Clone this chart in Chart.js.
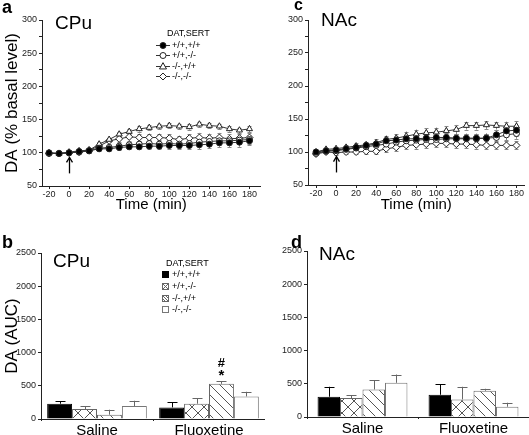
<!DOCTYPE html>
<html><head><meta charset="utf-8">
<script src="https://cdn.jsdelivr.net/npm/chart.js@4.4.1/dist/chart.umd.min.js"></script>
<style>
html,body{margin:0;padding:0;background:#fff;}
body{width:529px;height:435px;position:relative;overflow:hidden;}
.pn{position:absolute;}
</style></head><body>
<div class="pn" style="left:0;top:0;width:265px;height:215px"><canvas id="ca"></canvas></div>
<div class="pn" style="left:264px;top:0;width:265px;height:215px"><canvas id="cc"></canvas></div>
<div class="pn" style="left:0;top:215px;width:265px;height:220px"><canvas id="cb"></canvas></div>
<div class="pn" style="left:264px;top:215px;width:265px;height:220px"><canvas id="cd"></canvas></div>
<script>
// ---------- data ----------
const times = [-20,-10,0,10,20,30,40,50,60,70,80,90,100,110,120,130,140,150,160,170,180];
const timeTicks = [-20,0,20,40,60,80,100,120,140,160,180];
const pctTicks = [50,75,100,125,150,175,200,225,250,275,300];
const aucTicks = [0,500,1000,1500,2000,2500];
const genotypes = ['+/+,+/+','+/+,-/-','-/-,+/+','-/-,-/-'];
const legendTitle = 'DAT,SERT';
const treatments = ['Saline','Fluoxetine'];

// panel a: CPu time course (% basal)
const cpuWT     = [100,99,100,102,103,106,106,108,109,109,110,110,111,111,111,112,113,115,115,116,118];
const cpuWTErr  = [2,2,2,2,3,3,3,4,4,4,5,5,5,5,6,6,6,6,6,7,7];
const cpuSKO    = [99,99,100,101,103,107,108,110,112,113,114,113,114,113,114,116,117,118,118,119,120];
const cpuSKOErr = [2,2,2,2,3,3,4,4,5,5,5,6,6,6,6,6,6,6,6,6,7];
const cpuDKOd   = [100,99,101,103,104,113,120,128,132,136,138,140,141,140,139,143,141,140,136,134,136];
const cpuDKOdErr= [2,2,2,2,3,3,3,3,4,4,4,4,4,4,4,4,4,4,4,4,5];
const cpuDDKO   = [99,99,100,101,104,110,118,121,124,123,123,123,122,120,122,123,122,123,121,122,123];
const cpuDDKOErr= [2,2,2,2,3,4,5,5,6,6,6,6,6,6,6,7,7,7,7,7,7];

// panel c: NAc time course (% basal)
const nacWT     = [100,102,103,105,107,110,112,117,118,120,120,121,122,122,121,121,121,121,126,132,133];
const nacWTErr  = [2,2,3,3,4,4,5,6,6,6,6,7,7,7,7,7,7,7,7,8,8];
const nacSKO    = [98,101,102,104,106,108,110,112,115,117,118,119,119,120,120,120,120,121,122,126,128];
const nacSKOErr = [2,2,3,3,4,4,5,6,6,6,7,7,7,7,7,7,7,7,7,8,8];
const nacDKOd   = [100,104,105,107,109,111,114,119,121,124,127,129,130,132,134,140,140,141,140,139,139];
const nacDKOdErr= [2,2,3,3,4,4,5,6,6,7,7,7,7,7,7,6,6,6,6,7,8];
const nacDDKO   = [97,100,99,100,100,101,101,105,107,110,111,112,113,113,112,112,111,110,110,110,110];
const nacDDKOErr= [2,2,3,3,3,4,4,5,5,6,6,6,6,6,6,6,6,6,6,6,6];

// panel b: CPu AUC  [Saline, Fluoxetine]
const aucCpuWT   = [230,175];  const aucCpuWTErr   = [35,80];
const aucCpuSKO  = [150,230];  const aucCpuSKOErr  = [45,85];
const aucCpuDKOd = [65,530];   const aucCpuDKOdErr = [75,35];
const aucCpuDDKO = [195,340];  const aucCpuDDKOErr = [80,70];
// panel d: NAc AUC
const aucNacWT   = [305,335];  const aucNacWTErr   = [150,155];
const aucNacSKO  = [285,265];  const aucNacSKOErr  = [45,190];
const aucNacDKOd = [415,395];  const aucNacDKOdErr = [135,30];
const aucNacDDKO = [515,155];  const aucNacDDKOErr = [125,60];

// ---------- helpers ----------
const FONT = '"Liberation Sans", Arial, Helvetica, sans-serif';
Chart.defaults.font.family = FONT;
Chart.defaults.color = '#222';

function crossPattern(s) {
  const c = document.createElement('canvas'); c.width = s; c.height = s;
  const g = c.getContext('2d');
  g.fillStyle = '#fff'; g.fillRect(0,0,s,s);
  g.strokeStyle = '#555'; g.lineWidth = 1;
  g.beginPath(); g.moveTo(0,0); g.lineTo(s,s); g.moveTo(s,0); g.lineTo(0,s); g.stroke();
  return g.createPattern(c,'repeat');
}
function diagPattern(s) {
  const c = document.createElement('canvas'); c.width = s; c.height = s;
  const g = c.getContext('2d');
  g.fillStyle = '#fff'; g.fillRect(0,0,s,s);
  g.strokeStyle = '#555'; g.lineWidth = 1;
  g.beginPath();
  for (const o of [-s,0,s]) { g.moveTo(o,0); g.lineTo(o+s,s); }
  g.stroke();
  return g.createPattern(c,'repeat');
}

const errPlugin = {
  id: 'errbars',
  beforeDatasetsDraw(chart) { if (chart.config.type === 'line') drawErr(chart, true); },
  afterDatasetsDraw(chart) { if (chart.config.type === 'bar') drawErr(chart, false); }
};
function drawErr(chart, both) {
  const ctx = chart.ctx, ys = chart.scales.y;
  chart.data.datasets.forEach((ds, i) => {
    if (!ds.errors) return;
    const meta = chart.getDatasetMeta(i);
    ctx.save();
    ctx.strokeStyle = ds.errorColor || '#888';
    ctx.lineWidth = 1;
    meta.data.forEach((el, j) => {
      const raw = ds.data[j];
      const v = (typeof raw === 'object') ? raw.y : raw;
      const e = ds.errors[j];
      const x = Math.round(el.x) + 0.5;
      const yt = ys.getPixelForValue(v + e);
      const yb = both ? ys.getPixelForValue(v - e) : ys.getPixelForValue(v);
      const cw = ds.capWidth || 2;
      ctx.beginPath();
      ctx.moveTo(x, yb); ctx.lineTo(x, yt);
      ctx.moveTo(x - cw, Math.round(yt)+0.5); ctx.lineTo(x + cw, Math.round(yt)+0.5);
      if (both) { ctx.moveTo(x - cw, Math.round(yb)+0.5); ctx.lineTo(x + cw, Math.round(yb)+0.5); }
      ctx.stroke();
    });
    ctx.restore();
  });
}

const annotPlugin = {
  id: 'annot',
  afterDraw(chart, args, opts) {
    const ctx = chart.ctx;
    ctx.save();
    (opts.texts || []).forEach(t => {
      ctx.font = t.font; ctx.fillStyle = '#000';
      ctx.textAlign = t.align || 'left'; ctx.textBaseline = 'alphabetic';
      ctx.fillText(t.text, t.x, t.y);
    });
    // arrow at injection time
    if (opts.arrowAt !== undefined) {
      const x = Math.round(chart.scales.x.getPixelForValue(opts.arrowAt)) + 0.5;
      const y1 = chart.scales.y.getPixelForValue(opts.arrowFrom);
      const y2 = chart.scales.y.getPixelForValue(opts.arrowTo);
      ctx.strokeStyle = '#000'; ctx.lineWidth = 1.3;
      ctx.beginPath(); ctx.moveTo(x, y1); ctx.lineTo(x, y2); ctx.stroke();
      ctx.beginPath(); ctx.moveTo(x - 3, y2 + 5); ctx.lineTo(x, y2); ctx.lineTo(x + 3, y2 + 5); ctx.stroke();
    }
    // significance marks above a bar
    (opts.marks || []).forEach(m => {
      const meta = chart.getDatasetMeta(m.dataset);
      const el = meta.data[m.index];
      const ds = chart.data.datasets[m.dataset];
      const top = chart.scales.y.getPixelForValue(ds.data[m.index] + ds.errors[m.index]);
      ctx.textAlign = 'center'; ctx.fillStyle = '#000';
      ctx.font = 'bold 15px ' + FONT;
      ctx.fillText('*', el.x, top - 1);
      ctx.font = 'bold 13px ' + FONT;
      ctx.fillText('#', el.x, top - 14);
    });
    // legend
    const L = opts.legend;
    if (L) {
      ctx.font = '9px ' + FONT; ctx.fillStyle = '#000'; ctx.textAlign = 'left'; ctx.textBaseline = 'middle';
      ctx.fillText(legendTitle, L.titleX, L.titleY);
      chart.data.datasets.forEach((ds, k) => {
        const y = Math.round(L.y0 + k * L.dy) + 0.5;
        if (L.kind === 'line') {
          ctx.strokeStyle = '#333'; ctx.lineWidth = 1;
          ctx.beginPath(); ctx.moveTo(L.x0, y); ctx.lineTo(L.x0 + 14, y); ctx.stroke();
          ctx.fillStyle = ds.pointBackgroundColor; ctx.strokeStyle = '#222';
          drawMarker(ctx, ds.pointStyle, L.x0 + 7, y, ds.pointRadius);
          ctx.fillStyle = '#000';
          ctx.fillText(ds.label, L.x0 + 16, y);
        } else {
          const sx = L.x0, sy = y - 3.5, s = 7;
          ctx.save();
          ctx.fillStyle = ds.legendFill; ctx.fillRect(sx, sy, s, s);
          ctx.strokeStyle = ds.borderColor; ctx.lineWidth = 1;
          ctx.strokeRect(sx + 0.5, sy + 0.5, s - 1, s - 1);
          if (ds.legendMark === 'x') {
            ctx.beginPath(); ctx.moveTo(sx+0.5, sy+0.5); ctx.lineTo(sx+s-0.5, sy+s-0.5);
            ctx.moveTo(sx+s-0.5, sy+0.5); ctx.lineTo(sx+0.5, sy+s-0.5); ctx.stroke();
          } else if (ds.legendMark === 'd') {
            ctx.beginPath(); ctx.moveTo(sx+0.5, sy+0.5); ctx.lineTo(sx+s-0.5, sy+s-0.5);
            ctx.moveTo(sx+3.5, sy+0.5); ctx.lineTo(sx+s-0.5, sy+3.5);
            ctx.moveTo(sx+0.5, sy+3.5); ctx.lineTo(sx+3.5, sy+s-0.5); ctx.stroke();
          }
          ctx.restore();
          ctx.fillStyle = '#000';
          ctx.fillText(ds.label, sx + 10, y);
        }
      });
    }
    ctx.restore();
  }
};
function drawMarker(ctx, style, x, y, r) {
  ctx.beginPath();
  if (style === 'circle') { ctx.arc(x, y, r, 0, Math.PI*2); }
  else if (style === 'triangle') { ctx.moveTo(x, y - r*1.1); ctx.lineTo(x + r, y + r*0.7); ctx.lineTo(x - r, y + r*0.7); ctx.closePath(); }
  else if (style === 'rectRot') { ctx.moveTo(x, y - r); ctx.lineTo(x + r, y); ctx.lineTo(x, y + r); ctx.lineTo(x - r, y); ctx.closePath(); }
  ctx.fill(); ctx.stroke();
}

const markerStyles = [
  {ps: 'circle',   bg: '#000', r: 3},
  {ps: 'circle',   bg: '#fff', r: 3},
  {ps: 'triangle', bg: '#fff', r: 3.5},
  {ps: 'rectRot',  bg: '#fff', r: 3.5}
];

function axisCommon() {
  return {
    grid: {display: true, drawOnChartArea: false, drawTicks: true, tickLength: 3, color: '#222'},
    border: {display: true, color: '#222', width: 1}
  };
}

function lineChart(id, vals, errs, o) {
  const datasets = vals.map((v, k) => ({
    label: genotypes[k],
    data: times.map((t, i) => ({x: t, y: v[i]})),
    errors: errs[k],
    errorColor: '#888', capWidth: 2,
    borderColor: '#333', borderWidth: 1,
    pointStyle: markerStyles[k].ps, pointRadius: markerStyles[k].r,
    pointBackgroundColor: markerStyles[k].bg, pointBorderColor: '#222', pointBorderWidth: 1,
    pointHoverRadius: markerStyles[k].r,
    tension: 0, fill: false
  }));
  return new Chart(document.getElementById(id), {
    type: 'line',
    data: {datasets},
    options: {
      responsive: true, maintainAspectRatio: false, animation: false, events: [],
      layout: {padding: {left: 0, right: o.padRight, top: o.padTop, bottom: 0}},
      plugins: {legend: {display: false}, tooltip: {enabled: false}, annot: o.annot},
      scales: {
        x: Object.assign(axisCommon(), {
          type: 'linear', min: o.xmin, max: o.xmax,
          afterBuildTicks: s => { s.ticks = timeTicks.map(v => ({value: v})); },
          ticks: {font: {size: 9}, color: '#222', padding: 0, maxRotation: 0, autoSkip: false, callback: v => String(v)},
          title: {display: true, text: 'Time (min)', font: {size: 15}, color: '#000', padding: {top: 0, bottom: 1}},
          afterFit: s => { s.height = o.xh; }
        }),
        y: Object.assign(axisCommon(), {
          min: 50, max: 300,
          afterBuildTicks: s => { s.ticks = pctTicks.map(v => ({value: v})); },
          ticks: {font: {size: 9}, color: '#222', padding: 2, autoSkip: false, callback: v => (v % 50 === 0 ? String(v) : '')},
          title: {display: !!o.ytitle, text: o.ytitle || '', font: {size: 17}, color: '#000', padding: {top: 2, bottom: 0}},
          afterFit: s => { s.width = o.yw; }
        })
      }
    },
    plugins: [errPlugin, annotPlugin]
  });
}

function barChart(id, vals, errs, o) {
  const fills = ['#000', crossPattern(12), diagPattern(10), '#fff'];
  const legendFills = ['#000', '#fff', '#fff', '#fff'];
  const marks = [null, 'x', 'd', null];
  const borders = ['#000', '#666', '#666', '#777'];
  const datasets = vals.map((v, k) => ({
    label: genotypes[k], data: v, errors: errs[k],
    errorColor: k === 0 ? '#000' : '#666', capWidth: 5,
    backgroundColor: fills[k], borderColor: borders[k], borderWidth: 1,
    legendFill: legendFills[k], legendMark: marks[k],
    barPercentage: 1, categoryPercentage: o.catPct
  }));
  return new Chart(document.getElementById(id), {
    type: 'bar',
    data: {labels: treatments, datasets},
    options: {
      responsive: true, maintainAspectRatio: false, animation: false, events: [],
      layout: {padding: {left: 0, right: 0, top: o.padTop, bottom: 0}},
      plugins: {legend: {display: false}, tooltip: {enabled: false}, annot: o.annot},
      scales: {
        x: Object.assign(axisCommon(), {
          grid: {display: true, drawOnChartArea: false, drawTicks: true, tickLength: 2, color: '#222', offset: true},
          ticks: {font: {size: 15}, color: '#000', padding: 1},
          afterFit: s => { s.height = o.xh; }
        }),
        y: Object.assign(axisCommon(), {
          min: 0, max: 2500,
          afterBuildTicks: s => { s.ticks = aucTicks.map(v => ({value: v})); },
          ticks: {font: {size: 9}, color: '#222', padding: 2, autoSkip: false, callback: v => String(v)},
          title: {display: !!o.ytitle, text: o.ytitle || '', font: {size: 17}, color: '#000', padding: {top: 2, bottom: 0}},
          afterFit: s => { s.width = o.yw; }
        })
      }
    },
    plugins: [errPlugin, annotPlugin]
  });
}

// ---------- charts ----------
lineChart('ca', [cpuWT, cpuSKO, cpuDKOd, cpuDDKO], [cpuWTErr, cpuSKOErr, cpuDKOdErr, cpuDDKOErr], {
  xmin: -27, xmax: 191, padRight: 3, padTop: 20, xh: 29, yw: 42, ytitle: 'DA (% basal level)',
  annot: {
    texts: [{text: 'a', x: 2, y: 13, font: 'bold 18px ' + FONT}, {text: 'CPu', x: 55, y: 29, font: '19px ' + FONT}],
    arrowAt: 0, arrowFrom: 69, arrowTo: 93,
    legend: {kind: 'line', titleX: 167, titleY: 34, x0: 156, y0: 44.5, dy: 10.6}
  }
});
lineChart('cc', [nacWT, nacSKO, nacDKOd, nacDDKO], [nacWTErr, nacSKOErr, nacDKOdErr, nacDDKOErr], {
  xmin: -28, xmax: 188, padRight: 1, padTop: 20, xh: 30, yw: 44, ytitle: '',
  annot: {
    texts: [{text: 'c', x: 30, y: 10, font: 'bold 16px ' + FONT}, {text: 'NAc', x: 57, y: 26, font: '19px ' + FONT}],
    arrowAt: 0, arrowFrom: 69, arrowTo: 93
  }
});
barChart('cb', [aucCpuWT, aucCpuSKO, aucCpuDKOd, aucCpuDDKO], [aucCpuWTErr, aucCpuSKOErr, aucCpuDKOdErr, aucCpuDDKOErr], {
  catPct: 0.89, padTop: 38, xh: 16, yw: 41, ytitle: 'DA (AUC)',
  annot: {
    texts: [{text: 'b', x: 2, y: 33, font: 'bold 18px ' + FONT}, {text: 'CPu', x: 53, y: 52, font: '19px ' + FONT}],
    marks: [{dataset: 2, index: 1}],
    legend: {kind: 'bar', titleX: 166, titleY: 49, x0: 162, y0: 59.3, dy: 11.7}
  }
});
barChart('cd', [aucNacWT, aucNacSKO, aucNacDKOd, aucNacDDKO], [aucNacWTErr, aucNacSKOErr, aucNacDKOdErr, aucNacDDKOErr], {
  catPct: 0.81, padTop: 36, xh: 18, yw: 43, ytitle: '',
  annot: {
    texts: [{text: 'd', x: 27, y: 33, font: 'bold 18px ' + FONT}, {text: 'NAc', x: 55, y: 45, font: '19px ' + FONT}]
  }
});
</script>
</body></html>
